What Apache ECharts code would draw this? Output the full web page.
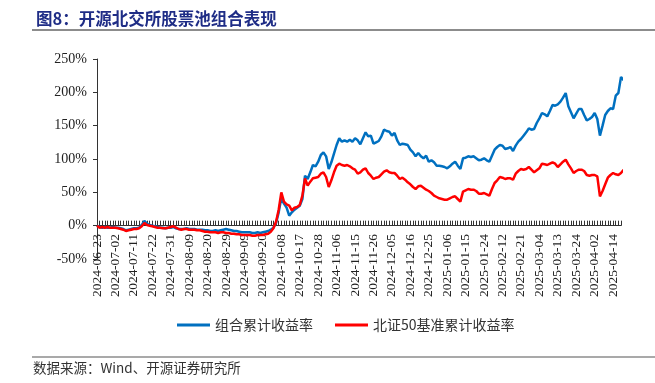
<!DOCTYPE html>
<html>
<head>
<meta charset="utf-8">
<script src="https://cdn.jsdelivr.net/npm/echarts@6/dist/echarts.min.js"></script>
<style>
  html, body { margin: 0; padding: 0; background: #fff; }
  #chart { width: 655px; height: 383px; }
</style>
</head>
<body>
<div id="chart"></div>
<script>
// trading days: first point, then weekdays without exchange holidays
var startLabel = '2024-06-23';
var endDate = '2025-04-17';
var holidays = ['2024-09-16', '2024-09-17', '2024-10-01', '2024-10-02', '2024-10-03', '2024-10-04', '2024-10-07',
  '2025-01-01', '2025-01-28', '2025-01-29', '2025-01-30', '2025-01-31', '2025-02-03', '2025-02-04', '2025-04-04'];

var yTicks = [-50, 0, 50, 100, 150, 200, 250];

// 组合累计收益率 (%)
var portfolio = [
  0, -2, -3, -2, -3, -3, -2, -3, -3, -4,
  -5, -7, -6, -5, -4, -4, -3, 1, 7, 3,
  1, 0, -1, -2, -3, -3, -4, -3, -3, -2,
  -4, -5, -5, -5, -4, -5, -5, -5, -6, -6,
  -6, -7, -7, -8, -8, -7, -8, -7, -6, -5,
  -6, -7, -8, -8, -9, -10, -10, -10, -10, -11,
  -11, -10, -11, -10, -9, -8, -6, -3, 4, 20,
  42, 33, 27, 15, 20, 24, 27, 30, 40, 75,
  70, 80, 91, 89, 96, 106, 110, 104, 85, 95,
  108, 121, 131, 126, 128, 126, 129, 126, 131, 128,
  122, 131, 140, 134, 135, 123, 125, 127, 134, 144,
  142, 141, 135, 139, 128, 121, 123, 122, 121, 114,
  110, 104, 109, 104, 101, 105, 96, 98, 95, 90,
  90, 89, 88, 86, 89, 93, 96, 90, 85, 101,
  102, 104, 103, 104, 101, 98, 99, 101, 98, 96,
  105, 114, 118, 121, 120, 115, 116, 118, 112, 120,
  126, 130, 135, 140, 146, 144, 145, 154, 161, 169,
  167, 164, 172, 181, 180, 182, 186, 192, 199, 179,
  170, 161, 168, 175, 175, 166, 158, 160, 163, 169,
  160, 135, 150, 166, 172, 176, 175, 195, 199, 223,
  218
];

// 北证50基准累计收益率 (%)
var benchmark = [
  0, -3, -2, -3, -2, -3, -3, -3, -4, -5,
  -6, -8, -7, -6, -5, -5, -4, -1, 4, 1,
  0, -1, -2, -3, -3, -4, -4, -3, -2, -1,
  -3, -5, -6, -5, -5, -6, -6, -6, -7, -7,
  -8, -9, -9, -10, -10, -10, -11, -10, -10, -11,
  -11, -12, -12, -13, -13, -14, -14, -14, -14, -15,
  -15, -14, -14, -14, -13, -12, -9, -4, 6, 24,
  50, 36, 32, 30, 23, 27, 28, 31, 45, 71,
  60, 66, 71, 72, 73, 78, 80, 73, 58, 68,
  80, 90, 93, 91, 90, 91, 89, 86, 84, 78,
  80, 84, 86, 79, 75, 70, 72, 73, 77, 81,
  83, 80, 79, 79, 75, 70, 72, 69, 65, 62,
  58, 55, 59, 60, 57, 54, 52, 49, 45, 43,
  41, 40, 39, 39, 41, 43, 44, 40, 36, 51,
  53, 55, 54, 54, 52, 48, 48, 49, 47, 45,
  55, 64, 68, 73, 72, 70, 71, 71, 69, 78,
  82, 85, 84, 85, 88, 84, 80, 83, 86, 93,
  92, 91, 93, 95, 93, 88, 92, 96, 99, 92,
  86, 79, 82, 84, 84, 82, 76, 75, 76, 76,
  74, 44, 52, 62, 72, 76, 79, 77, 76, 79,
  84
];

function pad(n) { return n < 10 ? '0' + n : '' + n; }
var dates = [startLabel];
var d = new Date(2024, 5, 24);
var last = new Date(2025, 3, 17);
while (d <= last) {
  var s = d.getFullYear() + '-' + pad(d.getMonth() + 1) + '-' + pad(d.getDate());
  var wd = d.getDay();
  if (wd !== 0 && wd !== 6 && holidays.indexOf(s) < 0) dates.push(s);
  d.setDate(d.getDate() + 1);
}

var serif = 'Liberation Serif';
var cjk = 'Noto Sans CJK SC';

var myChart = echarts.init(document.getElementById('chart'));
var option = {
  animation: false,
  backgroundColor: '#fff',
  title: {
    text: '图8：开源北交所股票池组合表现',
    left: 31,
    top: 5,
    textStyle: { color: '#1F2D86', fontSize: 16.5, fontWeight: 'bold', fontFamily: cjk }
  },
  graphic: [
    { type: 'line', shape: { x1: 32, y1: 30, x2: 655, y2: 30 }, style: { stroke: '#8c8c8c', lineWidth: 2 } },
    { type: 'line', shape: { x1: 32, y1: 357, x2: 655, y2: 357 }, style: { stroke: '#8c8c8c', lineWidth: 1.5 } },
    { type: 'text', left: 33, top: 361, style: { text: '数据来源：Wind、开源证券研究所', fill: '#333', font: '13.5px ' + cjk } }
  ],
  legend: {
    left: 172,
    top: 313,
    itemGap: 22,
    icon: 'rect',
    itemWidth: 33,
    itemHeight: 3,
    textStyle: { color: '#333', fontSize: 14, fontFamily: cjk },
    data: ['组合累计收益率', '北证50基准累计收益率']
  },
  grid: { left: 97, right: 34, top: 59, bottom: 124 },
  xAxis: {
    type: 'category',
    data: dates,
    boundaryGap: false,
    axisLine: { onZero: true, lineStyle: { color: '#333', width: 1 } },
    axisTick: { show: true, inside: true, length: 5, interval: 0, lineStyle: { color: '#333' } },
    axisLabel: { interval: 6, rotate: 90, color: '#222', fontSize: 13.5, fontFamily: serif, margin: -25 },
    splitLine: { show: false }
  },
  yAxis: {
    type: 'value',
    min: yTicks[0],
    max: yTicks[yTicks.length - 1],
    interval: 50,
    axisLine: { show: true, lineStyle: { color: '#333' } },
    axisTick: { show: true, length: 4, lineStyle: { color: '#333' } },
    axisLabel: { formatter: '{value}%', color: '#222', fontSize: 14, fontFamily: serif, margin: 10 },
    splitLine: { show: false }
  },
  series: [{
    name: '组合累计收益率',
    type: 'line',
    data: portfolio,
    symbol: 'none',
    lineStyle: { color: '#0070C0', width: 2.5 },
    itemStyle: { color: '#0070C0' }
  }, {
    name: '北证50基准累计收益率',
    type: 'line',
    data: benchmark,
    symbol: 'none',
    lineStyle: { color: '#FF0000', width: 2.5 },
    itemStyle: { color: '#FF0000' }
  }]
};
myChart.setOption(option);
</script>
</body>
</html>
